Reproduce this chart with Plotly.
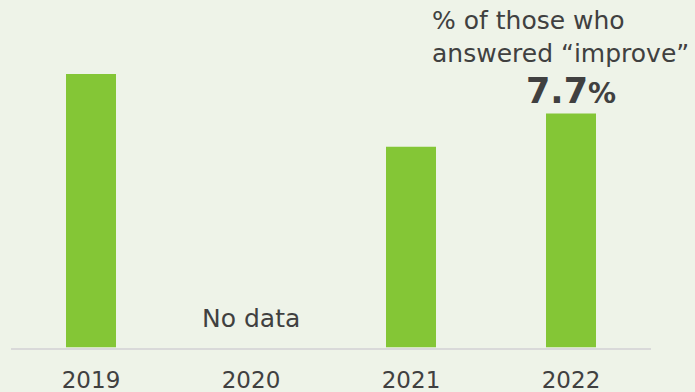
import plotly.graph_objects as go

# Survey results by year (share of respondents, %)
years = ["2019", "2020", "2021", "2022"]
values = [9.0, None, 6.6, 7.7]
missing_label = "No data"
note_lines = ["% of those who", "answered \u201cimprove\u201d"]

BG = "#EEF3E8"
BAR = "#84C636"
TEXT = "#404040"
FONT = "DejaVu Sans"

W, H = 695, 392
x_left, x_right = 11, 651          # plot area in px
base_px = 347.5                     # px from top of the zero line
px_per_unit = 30.4
y_top = base_px / px_per_unit

fig = go.Figure(
    go.Bar(
        x=years,
        y=values,
        marker=dict(color=BAR, line=dict(width=0)),
        width=0.3125,
        hoverinfo="skip",
    )
)

idx_missing = years.index("2020")
idx_last = len(years) - 1

annotations = []
# placeholder text for the missing year
annotations.append(dict(
    x=idx_missing, y=0.97, xref="x", yref="y",
    text=missing_label, showarrow=False,
    xanchor="center", yanchor="middle",
    font=dict(family=FONT, size=25, color=TEXT),
))
# caption above the latest bar
annotations.append(dict(
    x=430 / W, y=1.0, xref="paper", yref="paper",
    text="<br>".join(note_lines), showarrow=False, align="left",
    xanchor="left", yanchor="top", yshift=-4,
    font=dict(family=FONT, size=25, color=TEXT),
))
# highlighted value of the latest year
annotations.append(dict(
    x=idx_last, y=values[idx_last], xref="x", yref="y",
    text=f"<b>{values[idx_last]}</b><span style='font-size:28px'><b>%</b></span>",
    showarrow=False, xanchor="center", yanchor="bottom", yshift=0,
    font=dict(family=FONT, size=35, color=TEXT),
))

fig.update_layout(
    width=W, height=H,
    margin=dict(l=0, r=0, t=0, b=0),
    paper_bgcolor=BG, plot_bgcolor=BG,
    showlegend=False,
    annotations=annotations,
    xaxis=dict(
        domain=[x_left / W, x_right / W],
        range=[-0.5, 3.5],
        type="category",
        automargin=False,
        showgrid=False, zeroline=False,
        showline=True, linecolor="#D9D9D9", linewidth=2,
        ticks="", ticklabelstandoff=11,
        tickfont=dict(family=FONT, size=23, color=TEXT),
    ),
    yaxis=dict(
        domain=[(H - base_px) / H, 1],
        range=[0, y_top],
        automargin=False,
        visible=False,
    ),
)

fig.write_html("out.html")
